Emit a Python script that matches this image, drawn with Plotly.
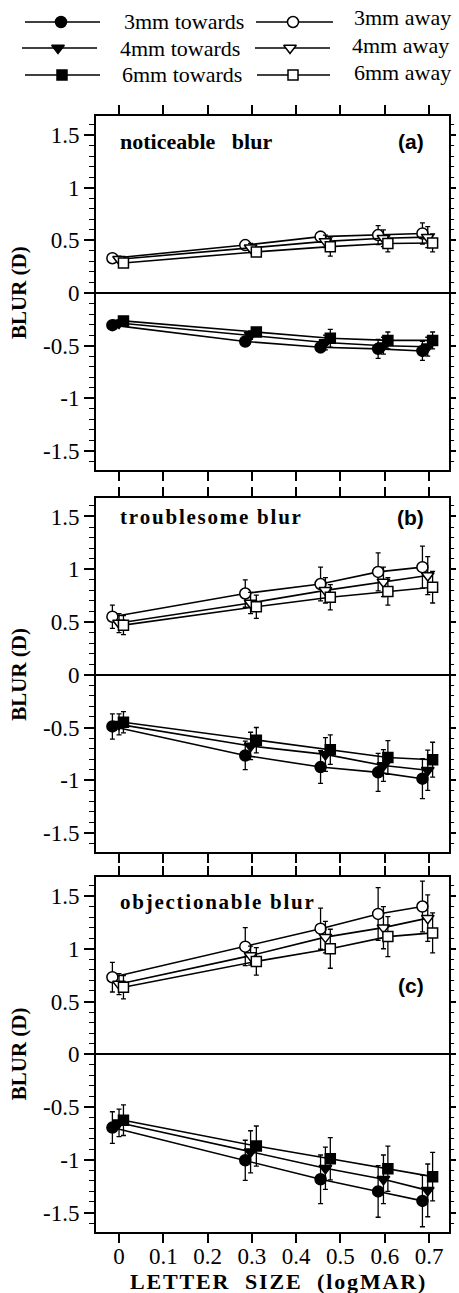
import plotly.graph_objects as go

# ---------------- data ----------------
# letter size (logMAR) positions of each pupil series (slightly offset in the figure)
x_3mm = [-0.015, 0.285, 0.455, 0.585, 0.685]
x_4mm = [0.0, 0.297, 0.466, 0.597, 0.697]
x_6mm = [0.01, 0.31, 0.477, 0.607, 0.708]

# (a) noticeable blur
a_3_away = [0.33, 0.455, 0.535, 0.55, 0.565]
a_3_away_err = [0.03, 0.04, 0.05, 0.09, 0.10]
a_4_away = [0.32, 0.43, 0.49, 0.52, 0.53]
a_4_away_err = [0.03, 0.04, 0.06, 0.08, 0.10]
a_6_away = [0.285, 0.39, 0.44, 0.47, 0.475]
a_6_away_err = [0.03, 0.04, 0.09, 0.08, 0.085]
a_3_tow = [-0.305, -0.46, -0.515, -0.53, -0.55]
a_3_tow_err = [0.03, 0.03, 0.05, 0.09, 0.09]
a_4_tow = [-0.285, -0.40, -0.47, -0.50, -0.51]
a_4_tow_err = [0.03, 0.04, 0.07, 0.08, 0.09]
a_6_tow = [-0.265, -0.37, -0.43, -0.45, -0.45]
a_6_tow_err = [0.03, 0.04, 0.085, 0.08, 0.08]

# (b) troublesome blur
b_3_away = [0.55, 0.77, 0.86, 0.975, 1.02]
b_3_away_err = [0.11, 0.13, 0.16, 0.18, 0.20]
b_4_away = [0.49, 0.68, 0.80, 0.88, 0.94]
b_4_away_err = [0.09, 0.10, 0.12, 0.14, 0.18]
b_6_away = [0.47, 0.645, 0.735, 0.79, 0.83]
b_6_away_err = [0.09, 0.11, 0.12, 0.13, 0.15]
b_3_tow = [-0.49, -0.765, -0.875, -0.925, -0.985]
b_3_tow_err = [0.12, 0.135, 0.155, 0.18, 0.19]
b_4_tow = [-0.47, -0.675, -0.755, -0.86, -0.905]
b_4_tow_err = [0.10, 0.13, 0.16, 0.15, 0.19]
b_6_tow = [-0.45, -0.62, -0.71, -0.785, -0.805]
b_6_tow_err = [0.10, 0.12, 0.14, 0.16, 0.165]

# (c) objectionable blur
c_3_away = [0.73, 1.02, 1.19, 1.33, 1.40]
c_3_away_err = [0.14, 0.18, 0.195, 0.25, 0.24]
c_4_away = [0.665, 0.935, 1.11, 1.20, 1.29]
c_4_away_err = [0.10, 0.09, 0.15, 0.20, 0.22]
c_6_away = [0.635, 0.88, 1.0, 1.115, 1.15]
c_6_away_err = [0.11, 0.13, 0.185, 0.19, 0.19]
c_3_tow = [-0.695, -1.005, -1.185, -1.30, -1.39]
c_3_tow_err = [0.15, 0.19, 0.23, 0.245, 0.245]
c_4_tow = [-0.65, -0.925, -1.08, -1.185, -1.29]
c_4_tow_err = [0.13, 0.20, 0.20, 0.23, 0.25]
c_6_tow = [-0.625, -0.87, -0.99, -1.085, -1.16]
c_6_tow_err = [0.145, 0.19, 0.20, 0.215, 0.23]

series_names = ["3mm towards", "4mm towards", "6mm towards", "3mm away", "4mm away", "6mm away"]
panel_titles = ["noticeable   blur", "troublesome blur", "objectionable blur"]
panel_tags = ["(a)", "(b)", "(c)"]
y_tick_vals = [-1.5, -1, -0.5, 0, 0.5, 1, 1.5]
y_tick_text = ["-1.5", "-1", "-0.5", "0", "0.5", "1", "1.5"]
x_tick_vals = [0, 0.1, 0.2, 0.3, 0.4, 0.5, 0.6, 0.7]
x_tick_text = ["0", "0.1", "0.2", "0.3", "0.4", "0.5", "0.6", "0.7"]
x_title = "LETTER  SIZE  (logMAR)"
y_title = "BLUR (D)"

# ---------------- layout geometry ----------------
W, H = 459, 1293
SERIF = "Liberation Serif, Times New Roman, serif"
SANS = "Liberation Sans, Arial, sans-serif"
HAIR = "\u200a"


def fy(px):
    return 1 - px / H


def fx(px):
    return px / W


def spaced(s, on):
    # emulate the loose letter-spacing of the original titles
    return HAIR.join(s) if on else s


X_DOM = [fx(96), fx(449)]
X_RANGE = [-0.052, 0.745]
Y_RANGE = [-1.68, 1.68]

panels = [
    dict(top=116, bot=470, title_y=142, tag_y=142, spaced=False, tsize=22,
         data=[(x_3mm, a_3_tow, a_3_tow_err), (x_4mm, a_4_tow, a_4_tow_err), (x_6mm, a_6_tow, a_6_tow_err),
               (x_3mm, a_3_away, a_3_away_err), (x_4mm, a_4_away, a_4_away_err), (x_6mm, a_6_away, a_6_away_err)]),
    dict(top=497.5, bot=852, title_y=517, tag_y=517, spaced=True, tsize=21,
         data=[(x_3mm, b_3_tow, b_3_tow_err), (x_4mm, b_4_tow, b_4_tow_err), (x_6mm, b_6_tow, b_6_tow_err),
               (x_3mm, b_3_away, b_3_away_err), (x_4mm, b_4_away, b_4_away_err), (x_6mm, b_6_away, b_6_away_err)]),
    dict(top=877, bot=1231.5, title_y=902, tag_y=985, spaced=True, tsize=21,
         data=[(x_3mm, c_3_tow, c_3_tow_err), (x_4mm, c_4_tow, c_4_tow_err), (x_6mm, c_6_tow, c_6_tow_err),
               (x_3mm, c_3_away, c_3_away_err), (x_4mm, c_4_away, c_4_away_err), (x_6mm, c_6_away, c_6_away_err)]),
]

styles = [
    dict(symbol="circle", color="black", size=11),
    dict(symbol="triangle-down", color="black", size=11),
    dict(symbol="square", color="black", size=10),
    dict(symbol="circle", color="white", size=11),
    dict(symbol="triangle-down", color="white", size=11),
    dict(symbol="square", color="white", size=10),
]

fig = go.Figure()
layout = dict(
    width=W, height=H, margin=dict(l=0, r=0, t=0, b=0),
    paper_bgcolor="white", plot_bgcolor="white", showlegend=False,
    font=dict(family=SERIF, color="black"),
)

annotations = []
for i, p in enumerate(panels):
    n = i + 1
    xa = "x" if n == 1 else f"x{n}"
    ya = "y" if n == 1 else f"y{n}"
    yr = f"y{n + 4}"
    dom = [fy(p["bot"]), fy(p["top"])]
    for (xs, ys, es), st, nm in zip(p["data"], styles, series_names):
        fig.add_trace(go.Scatter(
            x=xs, y=ys, mode="lines+markers", name=nm, xaxis=xa, yaxis=ya,
            line=dict(color="black", width=1.6),
            marker=dict(symbol=st["symbol"], size=st["size"], color=st["color"],
                        line=dict(color="black", width=1.5)),
            error_y=dict(type="data", array=es, visible=True, color="black", thickness=1.3, width=2.5),
        ))
    # dummy trace for right-hand tick axis
    fig.add_trace(go.Scatter(x=[None], y=[None], xaxis=xa, yaxis=yr, showlegend=False, hoverinfo="skip"))

    layout["xaxis" if n == 1 else f"xaxis{n}"] = dict(
        domain=X_DOM, range=X_RANGE, anchor=ya,
        showline=True, linecolor="black", linewidth=2, mirror="ticks",
        ticks="outside", ticklen=9, tickwidth=1.5, tickcolor="black",
        tickvals=x_tick_vals, ticktext=x_tick_text, showticklabels=(n == 3),
        ticklabelstandoff=-6,
        tickfont=dict(family=SERIF, size=23, color="black"),
        showgrid=False, zeroline=False,
    )
    layout["yaxis" if n == 1 else f"yaxis{n}"] = dict(
        domain=dom, range=Y_RANGE, anchor=xa,
        showline=True, linecolor="black", linewidth=2, mirror=False,
        ticks="outside", ticklen=10, tickwidth=1.5, tickcolor="black",
        tickvals=y_tick_vals, ticktext=y_tick_text,
        tickfont=dict(family=SERIF, size=23, color="black"),
        minor=dict(dtick=0.1, tick0=0, ticks="outside", ticklen=5, tickwidth=1.2, tickcolor="black"),
        showgrid=False, zeroline=True, zerolinecolor="black", zerolinewidth=1.6,
    )
    layout[f"yaxis{n + 4}"] = dict(
        domain=dom, range=Y_RANGE, anchor=xa, overlaying=ya, side="right",
        showline=True, linecolor="black", linewidth=2,
        ticks="outside", ticklen=5, tickwidth=1.5, tickcolor="black",
        tickvals=y_tick_vals, showticklabels=False,
        minor=dict(dtick=0.1, tick0=0, ticks="outside", ticklen=3, tickwidth=1.2, tickcolor="black"),
        showgrid=False, zeroline=False,
    )
    annotations.append(dict(
        text=f"<b>{spaced(panel_titles[i], p['spaced'])}</b>", xref="paper", yref="paper",
        x=fx(118), y=fy(p["title_y"]), xanchor="left", yanchor="middle", showarrow=False,
        font=dict(family=SERIF, size=p["tsize"], color="black"),
    ))
    annotations.append(dict(
        text=f"<b>{panel_tags[i]}</b>", xref="paper", yref="paper",
        x=fx(426), y=fy(p["tag_y"]), xanchor="right", yanchor="middle", showarrow=False,
        font=dict(family=SANS, size=21, color="black"),
    ))
    annotations.append(dict(
        text=f"<b>{y_title}</b>", xref="paper", yref="paper", textangle=-90,
        x=fx(19), y=fy((p["top"] + p["bot"]) / 2), xanchor="center", yanchor="middle", showarrow=False,
        font=dict(family=SERIF, size=21, color="black"),
    ))

annotations.append(dict(
    text=f"<b>{spaced(x_title, True)}</b>", xref="paper", yref="paper",
    x=fx(277), y=fy(1281), xanchor="center", yanchor="middle", showarrow=False,
    font=dict(family=SERIF, size=22, color="black"),
))

# ---------------- legend (drawn manually on a hidden pixel-scaled axis) ----------------
layout["xaxis4"] = dict(domain=[0, 1], range=[0, W], visible=False, anchor="y4")
layout["yaxis4"] = dict(domain=[fy(95), 1], range=[95, 0], visible=False, anchor="x4")
leg_pos = [
    # line x0, x1, marker x, y, text x, text y
    (25, 100, 61, 22, 122, 22),
    (22, 97, 58, 48, 118, 48),
    (25, 100, 62, 75, 120, 75),
    (256, 333, 293, 22, 352, 18),
    (255, 330, 290, 48, 350, 45),
    (257, 330, 293, 75, 352, 72),
]
for (x0, x1, xm, yy, xt, yt), st, nm in zip(leg_pos, styles, series_names):
    fig.add_trace(go.Scatter(x=[x0, x1], y=[yy, yy], mode="lines", xaxis="x4", yaxis="y4",
                             line=dict(color="black", width=1.6), hoverinfo="skip"))
    fig.add_trace(go.Scatter(x=[xm], y=[yy], mode="markers", xaxis="x4", yaxis="y4",
                             marker=dict(symbol=st["symbol"], size=st["size"], color=st["color"],
                                         line=dict(color="black", width=1.5)), hoverinfo="skip"))
    annotations.append(dict(
        text=nm, xref="paper", yref="paper", x=fx(xt), y=fy(yt),
        xanchor="left", yanchor="middle", showarrow=False,
        font=dict(family=SERIF, size=22, color="black"),
    ))

layout["annotations"] = annotations
fig.update_layout(**layout)
fig.write_html(
    "out.html",
    config={"displayModeBar": False},
    post_script="document.body.style.margin='0';document.body.style.padding='0';document.body.style.overflow='hidden';",
)
